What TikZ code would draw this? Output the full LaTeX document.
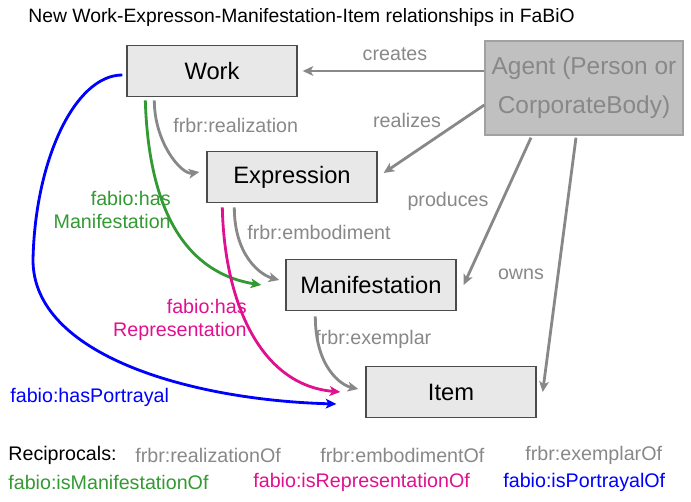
\documentclass[tikz,border=0pt]{standalone}
\usepackage{fontspec}
\setmainfont{Liberation Sans}
\usepackage{tikz}
\usetikzlibrary{arrows, arrows.meta}

\definecolor{relgray}{HTML}{888888}
\definecolor{relgreen}{HTML}{339933}
\definecolor{relpink}{HTML}{E0108F}
\definecolor{relblue}{HTML}{0000FF}
\definecolor{boxfill}{HTML}{E8E8E8}
\definecolor{agentfill}{HTML}{C0C0C0}

\begin{document}
\begin{tikzpicture}[x=0.02cm, y=-0.02cm,
    entity/.style={draw=black!70, fill=boxfill, line width=0.8pt,
        minimum width=3.4cm, minimum height=1.03cm, font=\fontsize{13.5}{16}\selectfont},
    lbl/.style={inner sep=0pt, font=\fontsize{11.2}{13.5}\selectfont},
    rel/.style={line width=1.6pt, -{Stealth[length=6pt, width=5.5pt, inset=1.5pt]}}]
    \useasboundingbox (0,0) rectangle (691,502);

    % Title
    \node[lbl, anchor=west, font=\fontsize{11}{13}\selectfont] (title) at (28,18)
        {New Work-Expresson-Manifestation-Item relationships in FaBiO};

    % Entities
    \node[entity] (work) at (212,71) {Work};
    \node[entity] (expr) at (292,177) {Expression};
    \node[entity] (manif) at (371,285) {Manifestation};
    \node[entity] (item) at (451,392) {Item};
    \node[entity, draw=black!37, fill=agentfill, text=relgray, align=center,
        minimum width=3.96cm, minimum height=1.88cm,
        font=\fontsize{13.9}{22}\selectfont] (agent) at (584,88)
        {Agent (Person or\\CorporateBody)};

    % Agent relations
    \draw[rel, relgray] ([shift={(0,-17)}]agent.west) -- ([shift={(5,0)}]work.east);
    \draw[rel, relgray] ([shift={(0,17)}]agent.west) -- ([shift={(6,-4)}]expr.east);
    \draw[rel, relgray] ([shift={(-53,2)}]agent.south) -- ([shift={(7,0)}]manif.east);
    \draw[rel, relgray] ([shift={(-8,2)}]agent.south) -- ([shift={(6,0)}]item.east);
    \node[lbl, text=relgray] (creates) at (395,54) {creates};
    \node[lbl, text=relgray] (realizes) at (407,120) {realizes};
    \node[lbl, text=relgray] (produces) at (448,201) {produces};
    \node[lbl, text=relgray] (owns) at (521,274) {owns};

    % FRBR chain
    \draw[rel, relgray] ([shift={(28,3)}]work.south west)
        .. controls ([shift={(28,45)}]work.south west) and ([shift={(-25,-2)}]expr.west)
        .. ([shift={(-7,-5)}]expr.west);
    \draw[rel, relgray] ([shift={(28,4)}]expr.south west)
        .. controls ([shift={(28,52)}]expr.south west) and ([shift={(-25,-10)}]manif.west)
        .. ([shift={(-6,-5)}]manif.west);
    \draw[rel, relgray] ([shift={(30,5)}]manif.south west)
        .. controls ([shift={(30,55)}]manif.south west) and ([shift={(-25,-7)}]item.west)
        .. ([shift={(-7,-3)}]item.west);
    \node[lbl, text=relgray, anchor=west] (realization) at (173,125) {frbr:realization};
    \node[lbl, text=relgray, anchor=west] (embodiment) at (247,232) {frbr:embodiment};
    \node[lbl, text=relgray, anchor=west] (exemplar) at (315,339) {frbr:exemplar};

    % FaBiO shortcuts
    \draw[rel, relgreen] ([shift={(19,3)}]work.south west)
        .. controls ([shift={(23,133)}]work.south west) and ([shift={(-86,-10)}]manif.west)
        .. ([shift={(-24,0)}]manif.west);
    \draw[rel, relpink] ([shift={(16,4)}]expr.south west)
        .. controls ([shift={(18,97)}]expr.south west) and ([shift={(-106,-7)}]item.west)
        .. ([shift={(-25,0)}]item.west);
    \draw[rel, relblue] ([shift={(-4,4)}]work.west)
        .. controls (75,75) and (35,160) .. (33,260)
        .. controls (33,355) and (190,400) .. ([shift={(-29,12)}]item.west);
    \node[lbl, text=relgreen, align=right, anchor=east] (hasmanif) at (171,210)
        {fabio:has\\Manifestation};
    \node[lbl, text=relpink, align=right, anchor=east] (hasrepr) at (247,320)
        {fabio:has\\Representation};
    \node[lbl, text=relblue, anchor=west] (hasportr) at (10,397) {fabio:hasPortrayal};

    % Reciprocals
    \node[lbl, anchor=west] (recip) at (8,455) {Reciprocals:};
    \node[lbl, text=relgray, anchor=west] (realof) at (135,455) {frbr:realizationOf};
    \node[lbl, text=relgray, anchor=west] (embof) at (320,455) {frbr:embodimentOf};
    \node[lbl, text=relgray, anchor=west] (exof) at (525,455) {frbr:exemplarOf};
    \node[lbl, text=relgreen, anchor=west] (manifof) at (8,482) {fabio:isManifestationOf};
    \node[lbl, text=relpink, anchor=west] (reprof) at (253,482) {fabio:isRepresentationOf};
    \node[lbl, text=relblue, anchor=west] (portrof) at (503,482) {fabio:isPortrayalOf};
\end{tikzpicture}
\end{document}
